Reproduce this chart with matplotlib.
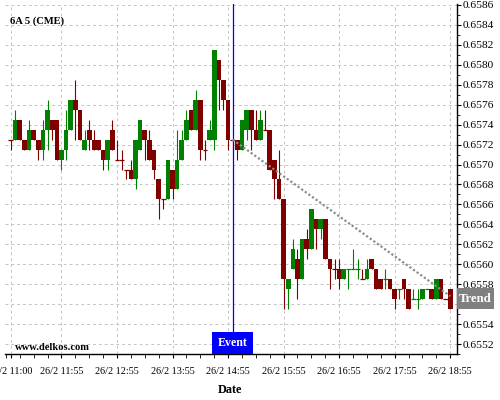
import numpy as np
import matplotlib
matplotlib.use("Agg")
import matplotlib.pyplot as plt
import matplotlib.transforms as mtransforms
from matplotlib.patches import Rectangle
from matplotlib.ticker import MultipleLocator, FormatStrFormatter

# 5 minute bars, 26/2 11:00 -> 18:55
symbol = "6A 5 (CME)"
tick_pos = [0, 11, 23, 35, 47, 59, 71, 83, 95]
tick_labels = ["26/2 11:00", "26/2 11:55", "26/2 12:55", "26/2 13:55", "26/2 14:55",
               "26/2 15:55", "26/2 16:55", "26/2 17:55", "26/2 18:55"]
event_bar = 48
trend_x = [48, 95]
trend_y = [0.65725, 0.65568]

opens = [0.65725, 0.65725, 0.65745, 0.65725, 0.65715, 0.65735, 0.65725, 0.65715, 0.65735, 0.65745,
         0.65745, 0.65705, 0.65715, 0.65735, 0.65765, 0.65755, 0.65715, 0.65735, 0.65725, 0.65725,
         0.65715, 0.65705, 0.65735, 0.65705, 0.65705, 0.65695, 0.65695, 0.65685, 0.65715, 0.65735,
         0.65725, 0.65715, 0.65685, 0.65665, 0.65665, 0.65695, 0.65675, 0.65705, 0.65725, 0.65755,
         0.65735, 0.65765, 0.65715, 0.65725, 0.65725, 0.65805, 0.65785, 0.65765, 0.65725, 0.65725,
         0.65715, 0.65735, 0.65755, 0.65735, 0.65725, 0.65735, 0.65735, 0.65705, 0.65685, 0.65665,
         0.65575, 0.65595, 0.65605, 0.65585, 0.65625, 0.65615, 0.65645, 0.65635, 0.65645, 0.65605,
         0.65595, 0.65595, 0.65585, 0.65595, 0.65595, 0.65595, 0.65585, 0.65585, 0.65605, 0.65595,
         0.65585, 0.65585, 0.65585, 0.65575, 0.65575, 0.65585, 0.65575, 0.65565, 0.65565, 0.65565,
         0.65575, 0.65575, 0.65565, 0.65585, 0.65565, 0.65575]
highs = [0.65725, 0.65755, 0.65745, 0.65725, 0.65745, 0.65735, 0.65725, 0.65745, 0.65765, 0.65745,
         0.65745, 0.65715, 0.65755, 0.65765, 0.65785, 0.65755, 0.65735, 0.65745, 0.65735, 0.65725,
         0.65715, 0.65725, 0.65745, 0.65725, 0.65715, 0.65695, 0.65705, 0.65725, 0.65745, 0.65735,
         0.65735, 0.65715, 0.65685, 0.65665, 0.65705, 0.65695, 0.65735, 0.65735, 0.65755, 0.65755,
         0.65775, 0.65765, 0.65725, 0.65745, 0.65815, 0.65805, 0.65785, 0.65765, 0.65725, 0.65725,
         0.65745, 0.65755, 0.65755, 0.65755, 0.65755, 0.65755, 0.65735, 0.65705, 0.65715, 0.65665,
         0.65585, 0.65625, 0.65615, 0.65625, 0.65635, 0.65655, 0.65645, 0.65645, 0.65645, 0.65605,
         0.65605, 0.65605, 0.65595, 0.65595, 0.65615, 0.65605, 0.65595, 0.65605, 0.65605, 0.65595,
         0.65585, 0.65595, 0.65585, 0.65575, 0.65575, 0.65585, 0.65575, 0.65575, 0.65575, 0.65575,
         0.65575, 0.65575, 0.65585, 0.65585, 0.65565, 0.65575]
lows = [0.65715, 0.65725, 0.65725, 0.65715, 0.65715, 0.65725, 0.65705, 0.65705, 0.65715, 0.65725,
        0.65705, 0.65695, 0.65705, 0.65735, 0.65725, 0.65725, 0.65715, 0.65715, 0.65715, 0.65715,
        0.65695, 0.65695, 0.65715, 0.65705, 0.65695, 0.65685, 0.65685, 0.65675, 0.65715, 0.65705,
        0.65705, 0.65685, 0.65645, 0.65655, 0.65665, 0.65665, 0.65675, 0.65705, 0.65725, 0.65735,
        0.65735, 0.65705, 0.65705, 0.65725, 0.65715, 0.65755, 0.65755, 0.65715, 0.65715, 0.65705,
        0.65715, 0.65725, 0.65715, 0.65725, 0.65725, 0.65735, 0.65695, 0.65665, 0.65665, 0.65555,
        0.65555, 0.65595, 0.65565, 0.65585, 0.65605, 0.65615, 0.65615, 0.65625, 0.65605, 0.65575,
        0.65585, 0.65575, 0.65585, 0.65575, 0.65595, 0.65585, 0.65585, 0.65585, 0.65595, 0.65575,
        0.65575, 0.65575, 0.65575, 0.65555, 0.65565, 0.65565, 0.65555, 0.65565, 0.65555, 0.65565,
        0.65575, 0.65565, 0.65565, 0.65565, 0.65565, 0.65555]
closes = [0.65725, 0.65745, 0.65725, 0.65715, 0.65735, 0.65725, 0.65715, 0.65735, 0.65755, 0.65735,
          0.65705, 0.65715, 0.65735, 0.65765, 0.65755, 0.65725, 0.65725, 0.65725, 0.65715, 0.65715,
          0.65705, 0.65725, 0.65715, 0.65705, 0.65705, 0.65695, 0.65685, 0.65725, 0.65745, 0.65725,
          0.65705, 0.65695, 0.65665, 0.65665, 0.65705, 0.65675, 0.65705, 0.65725, 0.65745, 0.65735,
          0.65765, 0.65715, 0.65715, 0.65735, 0.65815, 0.65785, 0.65765, 0.65725, 0.65725, 0.65715,
          0.65745, 0.65755, 0.65735, 0.65725, 0.65745, 0.65735, 0.65695, 0.65685, 0.65665, 0.65585,
          0.65585, 0.65615, 0.65585, 0.65625, 0.65615, 0.65655, 0.65635, 0.65645, 0.65605, 0.65595,
          0.65595, 0.65585, 0.65595, 0.65595, 0.65595, 0.65595, 0.65585, 0.65595, 0.65595, 0.65575,
          0.65575, 0.65585, 0.65575, 0.65565, 0.65575, 0.65575, 0.65555, 0.65565, 0.65565, 0.65575,
          0.65575, 0.65565, 0.65585, 0.65565, 0.65565, 0.65555]

up_col = "#008000"
dn_col = "#800000"

o = np.array(opens)
h = np.array(highs)
l = np.array(lows)
c = np.array(closes)
x = np.arange(len(o))

# candle colour, dojis follow the previous close
colors = []
prev = dn_col
for i in range(len(o)):
    if c[i] > o[i]:
        col = up_col
    elif c[i] < o[i]:
        col = dn_col
    elif i > 0 and c[i] > c[i - 1]:
        col = up_col
    elif i > 0 and c[i] < c[i - 1]:
        col = dn_col
    else:
        col = prev
    colors.append(col)
    prev = col
colors = np.array(colors)

plt.rcParams['font.family'] = ['Liberation Serif', 'DejaVu Serif']
fig = plt.figure(figsize=(5, 4), dpi=100)
ax = fig.add_axes([0.01, 0.115, 0.9034, 0.875])

ax.set_axisbelow(True)
ax.grid(True, color='#c4c4c4', linestyle=(0, (3, 3)), linewidth=0.7)

ax.vlines(x, l, h, colors=colors, linewidth=0.8, zorder=2)
body_lo = np.minimum(o, c)
body_h = np.abs(c - o)
ax.bar(x, body_h, bottom=body_lo, width=1.0, color=colors, linewidth=0, zorder=3)
doji = body_h == 0
ax.hlines(c[doji], x[doji] - 0.5, x[doji] + 0.5, colors=colors[doji], linewidth=0.9, zorder=3)

ax.axvline(event_bar, color='#0000ff', linewidth=0.9, zorder=4)
ax.plot(trend_x, trend_y, color='#8c8c8c', linestyle=(0, (1, 1)), linewidth=1.6,
        dash_capstyle='butt', zorder=4)

ax.set_xlim(-1.2, 96.4)
ax.set_ylim(0.6551, 0.65861)

for s in ['left', 'top']:
    ax.spines[s].set_visible(False)
for s in ['right', 'bottom']:
    ax.spines[s].set_color('black')
    ax.spines[s].set_linewidth(1.0)

ax.yaxis.tick_right()
ax.yaxis.set_major_locator(MultipleLocator(0.0002))
ax.yaxis.set_minor_locator(MultipleLocator(0.0001))
ax.yaxis.set_major_formatter(FormatStrFormatter('%.4f'))
ax.tick_params(axis='y', which='major', direction='out', length=3, width=0.8, pad=1, labelsize=8.2)
ax.tick_params(axis='y', which='minor', direction='out', length=2, width=0.6)

ax.set_xticks(tick_pos)
ax.set_xticklabels(tick_labels)
ax.set_xticks(np.arange(-1, 97, 3), minor=True)
ax.tick_params(axis='x', which='major', direction='out', length=3, width=0.8, pad=6, labelsize=7.3)
ax.tick_params(axis='x', which='minor', direction='out', length=3, width=0.6)

ax.text(0.01, 0.951, symbol, transform=ax.transAxes, fontsize=7.6, fontweight='bold',
        ha='left', va='center')
ax.text(0.022, 0.02, "www.delkos.com", transform=ax.transAxes, fontsize=7.6,
        fontweight='bold', ha='left', va='center')

# event marker box at the bottom
trans = mtransforms.blended_transform_factory(ax.transData, ax.transAxes)
ax.add_patch(Rectangle((event_bar - 4.5, 0), 8.9, 0.063, transform=trans,
                       facecolor='#0000ff', edgecolor='none', zorder=5, clip_on=False))
ax.text(event_bar, 0.031, "Event", transform=trans, color='white', fontsize=8.6,
        fontweight='bold', ha='center', va='center', zorder=6)

# trend label on the right axis, it hides the tick label underneath
fig.canvas.draw()
for lab in ax.yaxis.get_ticklabels():
    if abs(lab.get_position()[1] - trend_y[-1]) < 0.0001:
        lab.set_visible(False)
trans_r = mtransforms.blended_transform_factory(ax.transAxes, ax.transData)
ax.add_patch(Rectangle((1.0, trend_y[-1] - 0.00013), 0.082, 0.00021, transform=trans_r,
                       facecolor='#808080', edgecolor='none', zorder=5, clip_on=False))
ax.text(1.041, trend_y[-1] - 0.000025, "Trend", transform=trans_r, color='white', fontsize=9.2,
        fontweight='bold', ha='center', va='center', zorder=6)

fig.text(0.46, 1 - 390 / 400, "Date", fontsize=8.8, fontweight='bold', ha='center', va='center')

fig.savefig("out.png", dpi=100)
